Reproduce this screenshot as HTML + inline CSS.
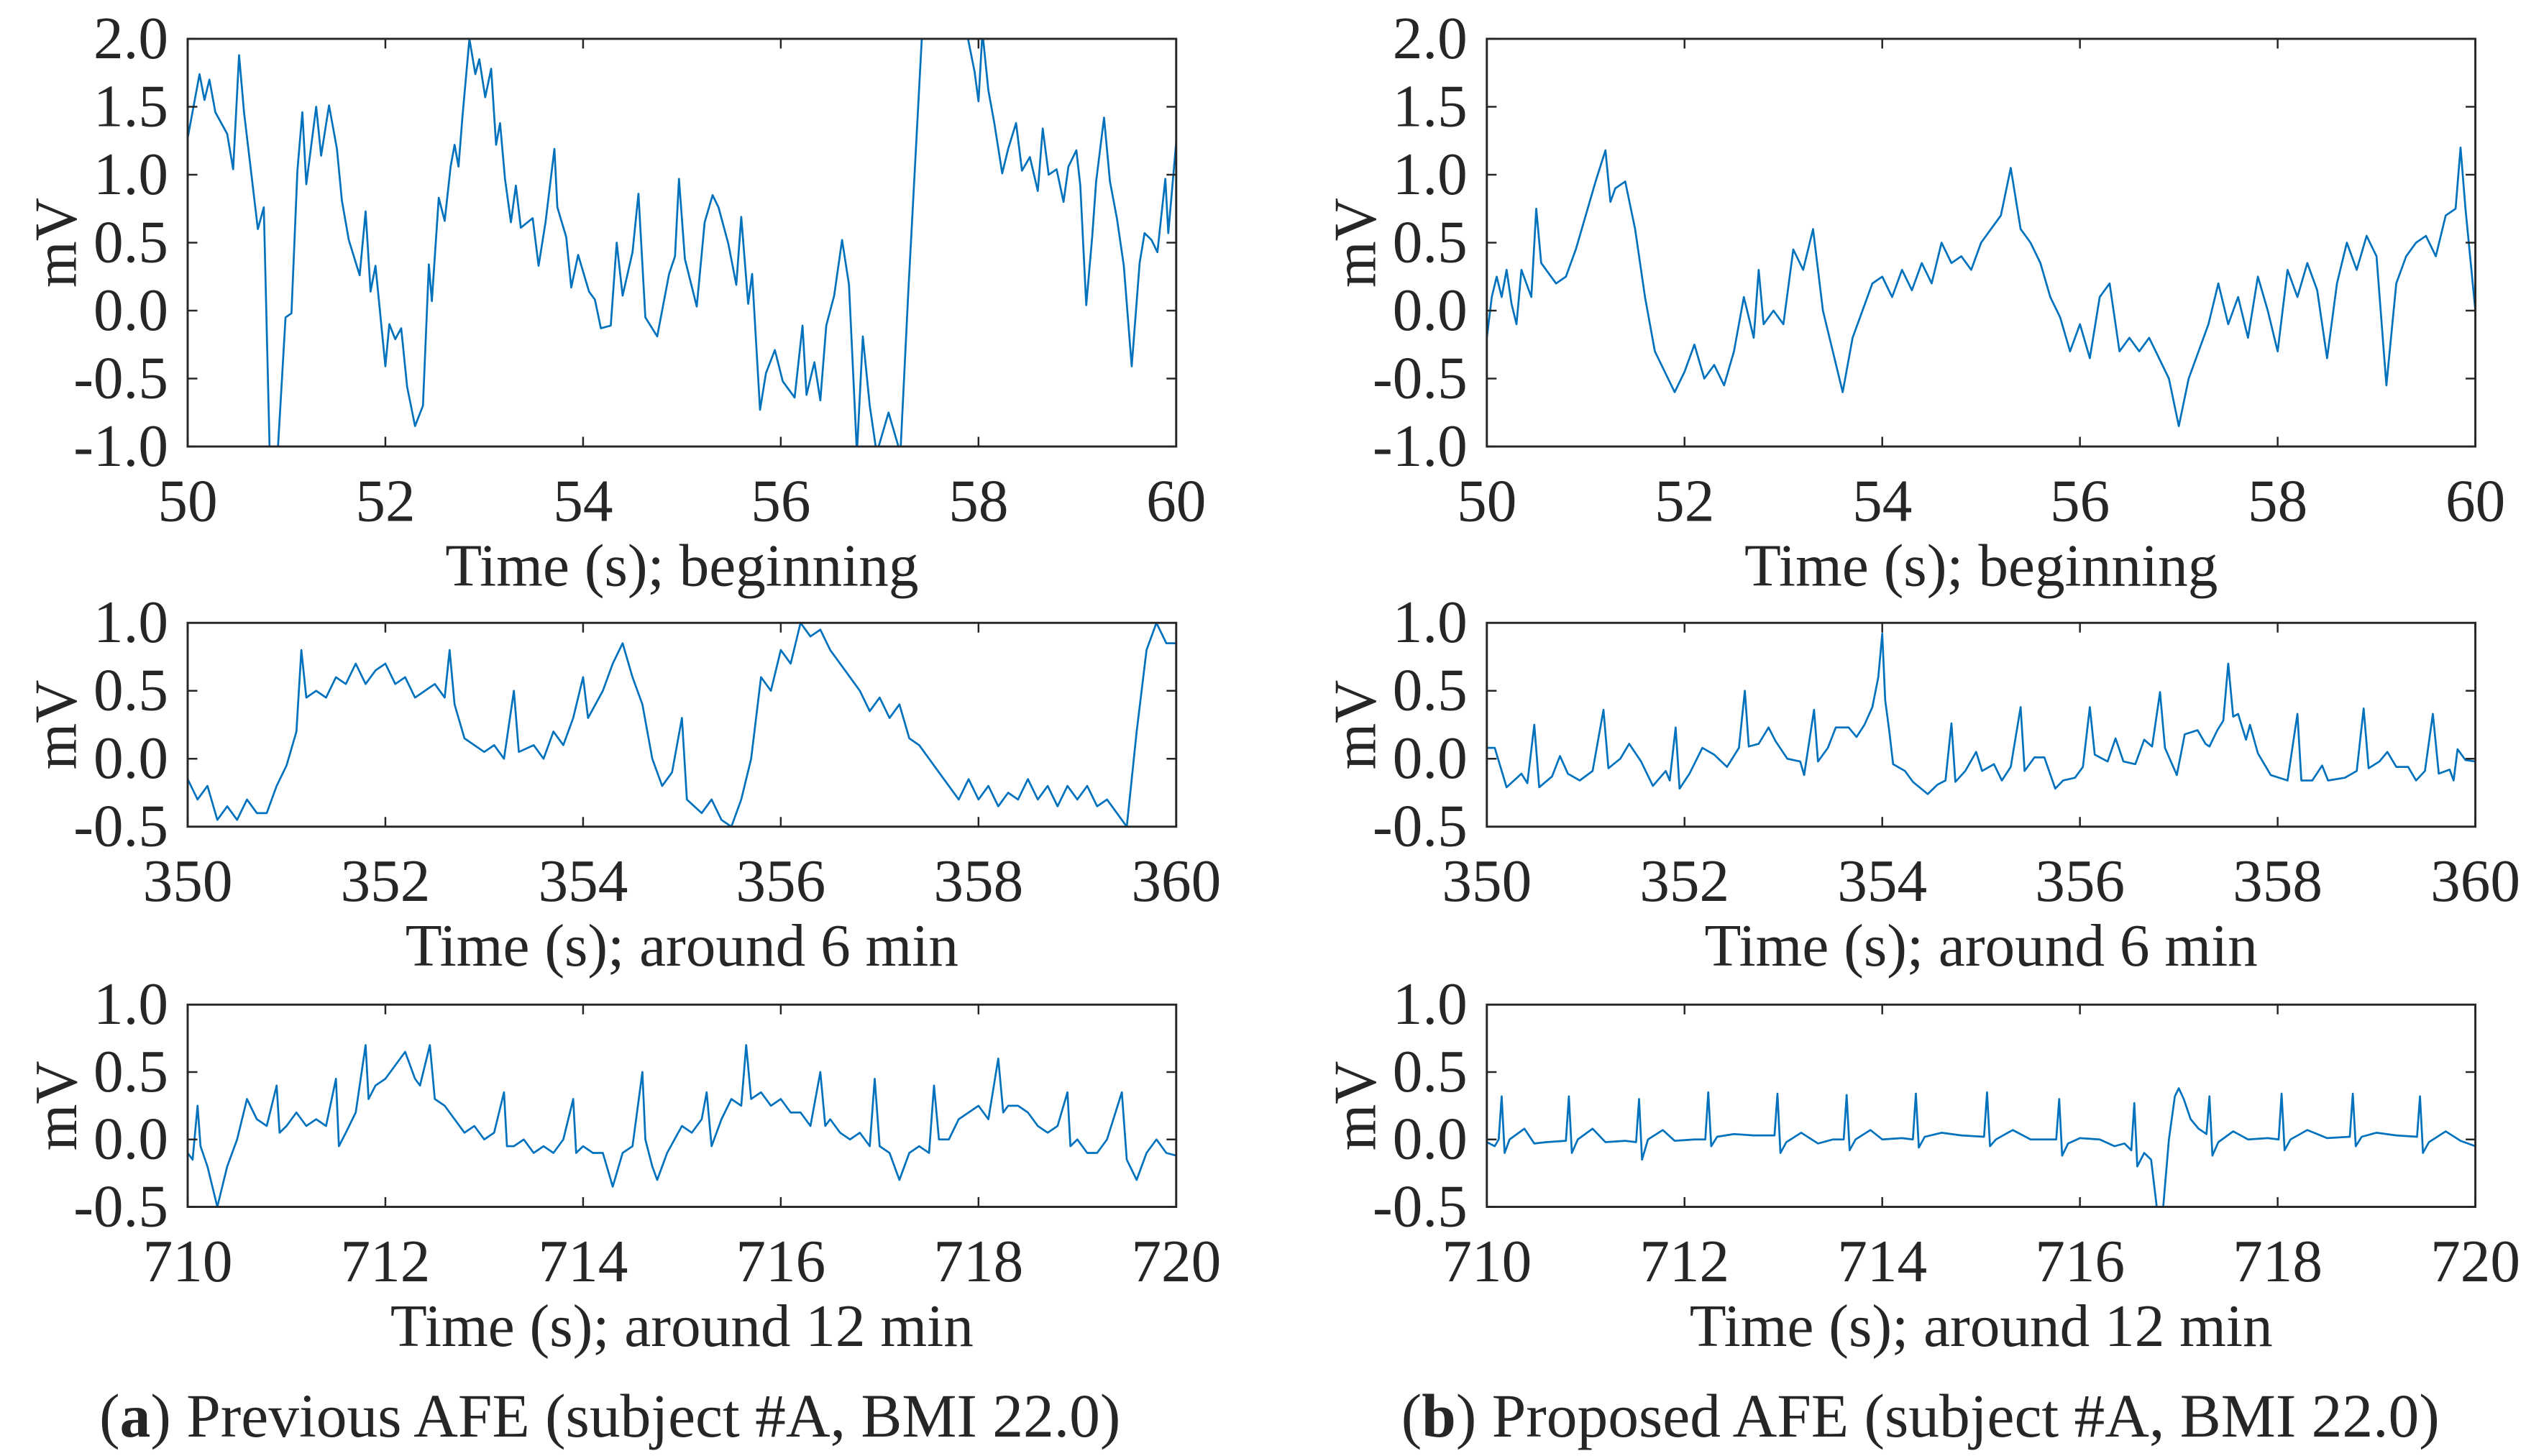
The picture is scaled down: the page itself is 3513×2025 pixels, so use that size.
<!DOCTYPE html>
<html><head><meta charset="utf-8">
<style>
html,body{margin:0;padding:0;background:#fff;}
svg{display:block;}
text{font-family:"Liberation Serif",serif;fill:#262626;}
</style></head>
<body>
<svg id="fig" width="3513" height="2025" viewBox="0 0 1561.3 900" preserveAspectRatio="none" xmlns="http://www.w3.org/2000/svg"></svg>
<script>
// ---- data ----
const xTicksBegin = [50,52,54,56,58,60];
const xTicks6 = [350,352,354,356,358,360];
const xTicks12 = [710,712,714,716,718,720];
const yTicksTop = [2.0,1.5,1.0,0.5,0.0,-0.5,-1.0];
const yTicksSmall = [1.0,0.5,0.0,-0.5];

const prevBegin = [[50,1.27],[50.12,1.74],[50.17,1.55],[50.22,1.7],[50.28,1.46],[50.4,1.3],[50.46,1.04],[50.52,1.88],[50.57,1.46],[50.65,0.97],[50.71,0.6],[50.77,0.76],[50.83,-1.05],[50.91,-1.05],[50.99,-0.05],[51.05,-0.02],[51.11,1.03],[51.16,1.46],[51.2,0.93],[51.3,1.5],[51.35,1.14],[51.43,1.51],[51.51,1.19],[51.56,0.81],[51.63,0.52],[51.74,0.26],[51.8,0.73],[51.85,0.14],[51.9,0.33],[52.0,-0.41],[52.04,-0.1],[52.1,-0.21],[52.16,-0.13],[52.22,-0.56],[52.3,-0.85],[52.38,-0.7],[52.44,0.34],[52.47,0.07],[52.54,0.83],[52.6,0.66],[52.66,1.06],[52.7,1.22],[52.74,1.06],[52.78,1.43],[52.85,2.0],[52.91,1.74],[52.95,1.85],[53.01,1.57],[53.07,1.78],[53.12,1.22],[53.16,1.38],[53.21,0.97],[53.27,0.65],[53.32,0.92],[53.37,0.61],[53.49,0.68],[53.55,0.33],[53.62,0.65],[53.71,1.19],[53.74,0.76],[53.83,0.54],[53.88,0.17],[53.95,0.41],[54.06,0.14],[54.12,0.08],[54.18,-0.13],[54.28,-0.11],[54.34,0.5],[54.4,0.11],[54.5,0.43],[54.56,0.86],[54.63,-0.05],[54.75,-0.19],[54.87,0.27],[54.93,0.4],[54.97,0.97],[55.03,0.38],[55.15,0.03],[55.23,0.65],[55.31,0.85],[55.37,0.76],[55.47,0.49],[55.55,0.19],[55.6,0.69],[55.67,0.05],[55.71,0.27],[55.79,-0.73],[55.85,-0.46],[55.94,-0.29],[56.02,-0.52],[56.14,-0.64],[56.22,-0.11],[56.26,-0.62],[56.34,-0.38],[56.4,-0.66],[56.46,-0.11],[56.54,0.11],[56.62,0.52],[56.69,0.19],[56.77,-1.05],[56.83,-0.19],[56.9,-0.7],[56.97,-1.05],[57.09,-0.75],[57.21,-1.05],[57.29,0.14],[57.43,2.05],[57.88,2.05],[57.96,1.76],[58.0,1.54],[58.04,2.05],[58.1,1.62],[58.16,1.38],[58.24,1.01],[58.3,1.19],[58.38,1.38],[58.44,1.03],[58.52,1.13],[58.6,0.88],[58.65,1.34],[58.71,1.0],[58.79,1.04],[58.86,0.8],[58.91,1.06],[58.99,1.18],[59.03,0.92],[59.09,0.04],[59.15,0.54],[59.19,0.95],[59.27,1.42],[59.33,0.95],[59.4,0.68],[59.47,0.33],[59.55,-0.41],[59.63,0.35],[59.68,0.57],[59.75,0.52],[59.81,0.43],[59.89,0.97],[59.92,0.57],[60.0,1.24]];

const propBegin = [[50,-0.2],[50.05,0.1],[50.1,0.25],[50.15,0.1],[50.2,0.3],[50.25,0.05],[50.3,-0.1],[50.35,0.3],[50.4,0.2],[50.45,0.1],[50.5,0.75],[50.55,0.35],[50.6,0.3],[50.7,0.2],[50.8,0.25],[50.9,0.45],[51.0,0.7],[51.1,0.95],[51.2,1.18],[51.25,0.8],[51.3,0.9],[51.4,0.95],[51.5,0.6],[51.6,0.1],[51.7,-0.3],[51.8,-0.45],[51.9,-0.6],[52.0,-0.45],[52.1,-0.25],[52.2,-0.5],[52.3,-0.4],[52.4,-0.55],[52.5,-0.3],[52.6,0.1],[52.7,-0.2],[52.75,0.3],[52.8,-0.1],[52.9,0.0],[53.0,-0.1],[53.1,0.45],[53.2,0.3],[53.3,0.6],[53.4,0.0],[53.5,-0.3],[53.6,-0.6],[53.7,-0.2],[53.8,0.0],[53.9,0.2],[54.0,0.25],[54.1,0.1],[54.2,0.3],[54.3,0.15],[54.4,0.35],[54.5,0.2],[54.6,0.5],[54.7,0.35],[54.8,0.4],[54.9,0.3],[55.0,0.5],[55.1,0.6],[55.2,0.7],[55.3,1.05],[55.4,0.6],[55.5,0.5],[55.6,0.35],[55.7,0.1],[55.8,-0.05],[55.9,-0.3],[56.0,-0.1],[56.1,-0.35],[56.2,0.1],[56.3,0.2],[56.4,-0.3],[56.5,-0.2],[56.6,-0.3],[56.7,-0.2],[56.8,-0.35],[56.9,-0.5],[57.0,-0.85],[57.1,-0.5],[57.2,-0.3],[57.3,-0.1],[57.4,0.2],[57.5,-0.1],[57.6,0.1],[57.7,-0.2],[57.8,0.25],[57.9,0.0],[58.0,-0.3],[58.1,0.3],[58.2,0.1],[58.3,0.35],[58.4,0.15],[58.5,-0.35],[58.6,0.2],[58.7,0.5],[58.8,0.3],[58.9,0.55],[59.0,0.4],[59.1,-0.55],[59.2,0.2],[59.3,0.4],[59.4,0.5],[59.5,0.55],[59.6,0.4],[59.7,0.7],[59.8,0.75],[59.85,1.2],[59.9,0.75],[60,0.0]];

const prev6 = [[350,-0.15],[350.1,-0.3],[350.2,-0.2],[350.3,-0.45],[350.4,-0.35],[350.5,-0.45],[350.6,-0.3],[350.7,-0.4],[350.8,-0.4],[350.9,-0.2],[351.0,-0.05],[351.1,0.2],[351.15,0.8],[351.2,0.45],[351.3,0.5],[351.4,0.45],[351.5,0.6],[351.6,0.55],[351.7,0.7],[351.8,0.55],[351.9,0.65],[352.0,0.7],[352.1,0.55],[352.2,0.6],[352.3,0.45],[352.4,0.5],[352.5,0.55],[352.6,0.45],[352.65,0.8],[352.7,0.4],[352.8,0.15],[352.9,0.1],[353.0,0.05],[353.1,0.1],[353.2,0.0],[353.3,0.5],[353.35,0.05],[353.5,0.1],[353.6,0.0],[353.7,0.2],[353.8,0.1],[353.9,0.3],[354.0,0.6],[354.05,0.3],[354.2,0.5],[354.3,0.7],[354.4,0.85],[354.5,0.6],[354.6,0.4],[354.7,0.0],[354.8,-0.2],[354.9,-0.1],[355.0,0.3],[355.05,-0.3],[355.2,-0.4],[355.3,-0.3],[355.4,-0.45],[355.5,-0.5],[355.6,-0.3],[355.7,0.0],[355.8,0.6],[355.9,0.5],[356.0,0.8],[356.1,0.7],[356.2,1.0],[356.3,0.9],[356.4,0.95],[356.5,0.8],[356.6,0.7],[356.7,0.6],[356.8,0.5],[356.9,0.35],[357.0,0.45],[357.1,0.3],[357.2,0.4],[357.3,0.15],[357.4,0.1],[357.5,0.0],[357.6,-0.1],[357.7,-0.2],[357.8,-0.3],[357.9,-0.15],[358.0,-0.3],[358.1,-0.2],[358.2,-0.35],[358.3,-0.25],[358.4,-0.3],[358.5,-0.15],[358.6,-0.3],[358.7,-0.2],[358.8,-0.35],[358.9,-0.2],[359.0,-0.3],[359.1,-0.2],[359.2,-0.35],[359.3,-0.3],[359.4,-0.4],[359.5,-0.5],[359.6,0.2],[359.7,0.8],[359.8,1.0],[359.9,0.85],[360,0.85]];

const prop6 = [[350,0.08],[350.08,0.08],[350.2,-0.21],[350.35,-0.11],[350.41,-0.18],[350.48,0.25],[350.53,-0.21],[350.66,-0.13],[350.74,0.02],[350.82,-0.11],[350.94,-0.16],[351.07,-0.09],[351.18,0.36],[351.23,-0.07],[351.35,0.0],[351.44,0.11],[351.56,-0.02],[351.68,-0.2],[351.81,-0.09],[351.85,-0.16],[351.91,0.23],[351.95,-0.22],[352.05,-0.11],[352.18,0.08],[352.3,0.03],[352.43,-0.06],[352.55,0.08],[352.61,0.5],[352.65,0.09],[352.75,0.11],[352.85,0.23],[352.92,0.13],[353.04,0.0],[353.17,-0.02],[353.21,-0.12],[353.31,0.36],[353.35,-0.02],[353.45,0.08],[353.53,0.23],[353.66,0.23],[353.74,0.16],[353.82,0.25],[353.9,0.38],[353.96,0.6],[354.0,0.92],[354.03,0.43],[354.07,0.21],[354.11,-0.04],[354.23,-0.09],[354.31,-0.17],[354.46,-0.26],[354.56,-0.19],[354.64,-0.16],[354.7,0.26],[354.74,-0.17],[354.84,-0.09],[354.95,0.05],[355.01,-0.09],[355.13,-0.04],[355.21,-0.16],[355.3,-0.06],[355.4,0.38],[355.44,-0.09],[355.54,0.01],[355.64,0.01],[355.75,-0.22],[355.83,-0.16],[355.95,-0.14],[356.03,-0.06],[356.1,0.38],[356.15,0.03],[356.28,-0.02],[356.36,0.15],[356.44,-0.02],[356.56,-0.04],[356.65,0.14],[356.73,0.09],[356.81,0.49],[356.86,0.08],[356.98,-0.12],[357.06,0.18],[357.19,0.21],[357.27,0.11],[357.31,0.09],[357.39,0.21],[357.45,0.28],[357.5,0.7],[357.55,0.31],[357.6,0.33],[357.68,0.14],[357.72,0.25],[357.8,0.04],[357.93,-0.12],[358.1,-0.16],[358.2,0.33],[358.24,-0.16],[358.35,-0.16],[358.45,-0.05],[358.51,-0.16],[358.68,-0.14],[358.8,-0.09],[358.87,0.37],[358.92,-0.07],[359.03,-0.02],[359.11,0.05],[359.2,-0.06],[359.32,-0.06],[359.4,-0.16],[359.49,-0.09],[359.57,0.33],[359.63,-0.11],[359.74,-0.08],[359.78,-0.16],[359.82,0.07],[359.9,-0.01],[360,-0.02]];

const prev12 = [[710,-0.1],[710.05,-0.15],[710.1,0.25],[710.13,-0.05],[710.2,-0.2],[710.3,-0.5],[710.4,-0.2],[710.5,0.0],[710.6,0.3],[710.7,0.15],[710.8,0.1],[710.9,0.4],[710.93,0.05],[711.0,0.1],[711.1,0.2],[711.2,0.1],[711.3,0.15],[711.4,0.1],[711.5,0.45],[711.53,-0.05],[711.6,0.05],[711.7,0.2],[711.8,0.7],[711.83,0.3],[711.9,0.4],[712.0,0.45],[712.1,0.55],[712.2,0.65],[712.3,0.45],[712.35,0.4],[712.45,0.7],[712.5,0.3],[712.6,0.25],[712.7,0.15],[712.8,0.05],[712.9,0.1],[713.0,0.0],[713.1,0.05],[713.2,0.35],[713.23,-0.05],[713.3,-0.05],[713.4,0.0],[713.5,-0.1],[713.6,-0.05],[713.7,-0.1],[713.8,0.0],[713.9,0.3],[713.93,-0.1],[714.0,-0.05],[714.1,-0.1],[714.2,-0.1],[714.3,-0.35],[714.4,-0.1],[714.5,-0.05],[714.6,0.5],[714.63,0.0],[714.7,-0.2],[714.75,-0.3],[714.85,-0.1],[715.0,0.1],[715.1,0.05],[715.2,0.15],[715.25,0.35],[715.3,-0.05],[715.4,0.15],[715.5,0.3],[715.6,0.25],[715.65,0.7],[715.7,0.3],[715.8,0.35],[715.9,0.25],[716.0,0.3],[716.1,0.2],[716.2,0.2],[716.3,0.1],[716.4,0.5],[716.45,0.1],[716.5,0.15],[716.6,0.05],[716.7,0.0],[716.8,0.05],[716.9,-0.05],[716.95,0.45],[717.0,-0.05],[717.1,-0.1],[717.2,-0.3],[717.3,-0.1],[717.4,-0.05],[717.5,-0.1],[717.55,0.4],[717.6,0.0],[717.7,0.0],[717.8,0.15],[717.9,0.2],[718.0,0.25],[718.1,0.15],[718.2,0.6],[718.25,0.2],[718.3,0.25],[718.4,0.25],[718.5,0.2],[718.6,0.1],[718.7,0.05],[718.8,0.1],[718.9,0.35],[718.93,-0.05],[719.0,0.0],[719.1,-0.1],[719.2,-0.1],[719.3,0.0],[719.45,0.35],[719.5,-0.15],[719.6,-0.3],[719.7,-0.1],[719.8,0.0],[719.9,-0.1],[720,-0.12]];

const prop12 = [[710,-0.02],[710.08,-0.05],[710.12,0.0],[710.15,0.32],[710.18,-0.1],[710.23,0.0],[710.38,0.08],[710.48,-0.03],[710.6,-0.02],[710.8,-0.01],[710.83,0.32],[710.86,-0.1],[710.92,0.0],[711.07,0.08],[711.2,-0.02],[711.4,-0.01],[711.51,-0.02],[711.54,0.3],[711.57,-0.15],[711.63,0.0],[711.78,0.07],[711.9,-0.01],[712.1,0.0],[712.21,0.0],[712.24,0.35],[712.27,-0.05],[712.33,0.02],[712.5,0.04],[712.7,0.03],[712.91,0.03],[712.94,0.34],[712.97,-0.1],[713.03,-0.02],[713.18,0.05],[713.35,-0.03],[713.5,0.0],[713.61,0.0],[713.64,0.33],[713.67,-0.08],[713.73,0.0],[713.88,0.07],[714.0,0.0],[714.2,0.01],[714.31,0.0],[714.34,0.34],[714.37,-0.06],[714.43,0.02],[714.6,0.05],[714.8,0.03],[715.03,0.02],[715.06,0.35],[715.09,-0.05],[715.15,0.0],[715.32,0.07],[715.5,0.0],[715.76,0.0],[715.79,0.3],[715.82,-0.12],[715.88,-0.03],[716.0,0.01],[716.2,0.0],[716.35,-0.05],[716.45,-0.03],[716.52,-0.08],[716.55,0.27],[716.58,-0.2],[716.65,-0.1],[716.72,-0.15],[716.78,-0.52],[716.84,-0.52],[716.9,0.0],[716.96,0.32],[717.0,0.38],[717.05,0.3],[717.12,0.15],[717.2,0.08],[717.28,0.04],[717.31,0.32],[717.34,-0.12],[717.4,-0.02],[717.55,0.06],[717.7,0.0],[717.9,0.01],[718.01,0.0],[718.04,0.34],[718.07,-0.08],[718.13,0.0],[718.3,0.07],[718.5,0.01],[718.73,0.02],[718.76,0.34],[718.79,-0.05],[718.85,0.02],[719.0,0.05],[719.2,0.03],[719.41,0.02],[719.44,0.32],[719.47,-0.1],[719.53,-0.02],[719.7,0.06],[719.85,-0.01],[720,-0.05]];

const subplots = [
  {name:'prev-beginning', x0:116,x1:727,y0:24,y1:276,xmin:50,xmax:60,ymin:-1,ymax:2,xt:xTicksBegin,yt:yTicksTop,data:prevBegin,lab:'Time (s); beginning'},
  {name:'prop-beginning', x0:919,x1:1530,y0:24,y1:276,xmin:50,xmax:60,ymin:-1,ymax:2,xt:xTicksBegin,yt:yTicksTop,data:propBegin,lab:'Time (s); beginning'},
  {name:'prev-6min', x0:116,x1:727,y0:385,y1:511,xmin:350,xmax:360,ymin:-0.5,ymax:1,xt:xTicks6,yt:yTicksSmall,data:prev6,lab:'Time (s); around 6 min'},
  {name:'prop-6min', x0:919,x1:1530,y0:385,y1:511,xmin:350,xmax:360,ymin:-0.5,ymax:1,xt:xTicks6,yt:yTicksSmall,data:prop6,lab:'Time (s); around 6 min'},
  {name:'prev-12min', x0:116,x1:727,y0:621,y1:746,xmin:710,xmax:720,ymin:-0.5,ymax:1,xt:xTicks12,yt:yTicksSmall,data:prev12,lab:'Time (s); around 12 min'},
  {name:'prop-12min', x0:919,x1:1530,y0:621,y1:746,xmin:710,xmax:720,ymin:-0.5,ymax:1,xt:xTicks12,yt:yTicksSmall,data:prop12,lab:'Time (s); around 12 min'}
];

const FS = 37;
const NS='http://www.w3.org/2000/svg';
const svg=document.getElementById('fig');
function mk(tag,attrs,parent){const e=document.createElementNS(NS,tag);for(const k in attrs)e.setAttribute(k,attrs[k]);(parent||svg).appendChild(e);return e;}

subplots.forEach((p,i)=>{
  const g=mk('g',{});
  
  
  const sx=v=>p.x0+(v-p.xmin)/(p.xmax-p.xmin)*(p.x1-p.x0);
  const sy=v=>p.y1-(v-p.ymin)/(p.ymax-p.ymin)*(p.y1-p.y0);
  const cp=mk('clipPath',{id:'c'+i},g);
  mk('rect',{x:p.x0,y:p.y0,width:p.x1-p.x0,height:p.y1-p.y0},cp);
  const d=p.data.map((pt,j)=>(j?'L':'M')+sx(pt[0]).toFixed(2)+','+sy(pt[1]).toFixed(2)).join('');
  const line=mk('path',{d:d,fill:'none',stroke:'#0072BD','stroke-width':1.2,'stroke-linejoin':'round','clip-path':'url(#c'+i+')'},g);
  
  
  const fr=mk('rect',{x:p.x0,y:p.y0,width:p.x1-p.x0,height:p.y1-p.y0,fill:'none',stroke:'#262626','stroke-width':1.3},g);
  
  
  p.xt.forEach(t=>{
    const x=sx(t);
    mk('line',{x1:x,x2:x,y1:p.y1,y2:p.y1-6,stroke:'#262626','stroke-width':1.1},g);
    mk('line',{x1:x,x2:x,y1:p.y0,y2:p.y0+6,stroke:'#262626','stroke-width':1.1},g);
    const tx=mk('text',{x:x,y:p.y1+46,'text-anchor':'middle','font-size':FS},g);
    tx.textContent=t;
    
    
  });
  p.yt.forEach(t=>{
    const y=sy(t);
    mk('line',{x1:p.x0,x2:p.x0+6,y1:y,y2:y,stroke:'#262626','stroke-width':1.1},g);
    mk('line',{x1:p.x1,x2:p.x1-6,y1:y,y2:y,stroke:'#262626','stroke-width':1.1},g);
    const ty=mk('text',{x:p.x0-12,y:y+12,'text-anchor':'end','font-size':FS},g);
    ty.textContent=t.toFixed(1);
    
    
  });
  const xl=mk('text',{x:(p.x0+p.x1)/2,y:p.y1+86,'text-anchor':'middle','font-size':FS},g);
  xl.textContent=p.lab;
  
  
  const yc=(p.y0+p.y1)/2, yx=p.x0-69;
  const yl=mk('text',{x:yx,y:yc,'text-anchor':'middle','font-size':FS,transform:'rotate(-90 '+yx+' '+yc+')'},g);
  yl.textContent='mV';
  
  
});
</script>
<svg style="position:absolute;left:0;top:0" width="3513" height="2025" viewBox="0 0 1561.3 900" preserveAspectRatio="none">
  <text x="377" y="888" text-anchor="middle" font-size="38">(<tspan font-weight="bold">a</tspan>) Previous AFE (subject #A, BMI 22.0)</text>
  <text x="1187" y="888" text-anchor="middle" font-size="38">(<tspan font-weight="bold">b</tspan>) Proposed AFE (subject #A, BMI 22.0)</text>
</svg>
</body></html>
